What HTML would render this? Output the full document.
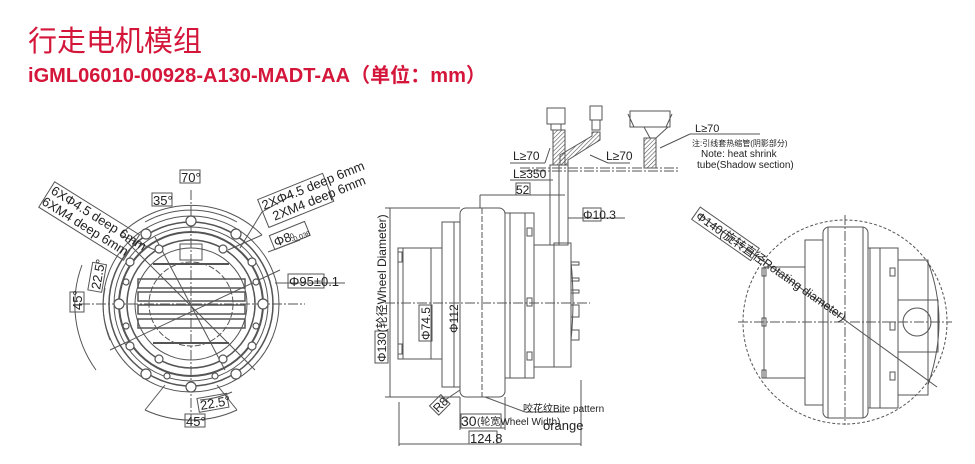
<!DOCTYPE html>
<html><head><meta charset="utf-8"><style>
html,body{margin:0;padding:0;background:#fff;width:975px;height:464px;overflow:hidden}
svg{position:absolute;left:0;top:0}
text{font-family:"Liberation Sans","Noto Sans CJK SC",sans-serif}
</style></head><body>
<svg width="975" height="464" viewBox="0 0 975 464" xmlns="http://www.w3.org/2000/svg">
<defs>
<pattern id="h" width="3" height="3" patternUnits="userSpaceOnUse" patternTransform="rotate(45)"><line x1="0" y1="0" x2="0" y2="3" stroke="#555" stroke-width="1.2"/></pattern>
</defs>
<text x="28" y="51" font-size="29" fill="#d4163a">行走电机模组</text>
<text x="28" y="82" font-size="20" font-weight="bold" fill="#d4163a" textLength="458" lengthAdjust="spacingAndGlyphs">iGML06010-00928-A130-MADT-AA（单位：mm）</text>

<!-- LEFT VIEW -->
<g fill="none" stroke="#555" stroke-width="1">
<circle cx="191" cy="304" r="88"/>
<circle cx="191" cy="304" r="82" stroke-width="1.5"/>
<circle cx="191" cy="304" r="77"/>
<circle cx="191" cy="304" r="72" stroke-width="2"/>
<circle cx="191" cy="304" r="64" stroke-width="1.5"/>
<circle cx="191" cy="304" r="56"/>
<circle cx="191" cy="304" r="42" stroke-dasharray="6 2"/>
<line x1="80" y1="304" x2="305" y2="304" stroke-dasharray="10 2 2 2"/>
<line x1="191" y1="190" x2="191" y2="420" stroke-dasharray="10 2 2 2"/>
<rect x="138" y="279" width="107" height="9" stroke-width="1.5"/>
<rect x="138" y="292" width="107" height="9" stroke-width="1.5"/>
<rect x="138" y="305" width="107" height="9" stroke-width="1.5"/>
<rect x="138" y="319" width="107" height="9" stroke-width="1.5"/>
<line x1="153" y1="264" x2="229" y2="264" stroke-width="2"/>
<line x1="153" y1="343" x2="229" y2="343" stroke-width="2"/>
<rect x="180" y="244" width="22" height="16"/>
<line x1="110" y1="350" x2="280" y2="270"/>
<line x1="125" y1="240" x2="255" y2="370"/>
<line x1="155" y1="237" x2="225" y2="370"/>
<path d="M120 235 A100 100 0 0 1 262 235"/>
<path d="M145 222 A95 95 0 0 1 237 222"/>
<path d="M82 265 A112 112 0 0 0 96 370"/>
<path d="M105 288 A90 90 0 0 0 110 340"/>
<path d="M145 410 A110 110 0 0 0 237 410"/>
<path d="M200 400 A95 95 0 0 0 232 392"/>
<line x1="120" y1="235" x2="155" y2="250"/><line x1="262" y1="235" x2="228" y2="250"/>
<line x1="145" y1="410" x2="165" y2="385"/><line x1="237" y1="410" x2="217" y2="385"/>
<line x1="240" y1="248" x2="262" y2="212"/>
<line x1="262" y1="212" x2="292" y2="195"/>
<line x1="268" y1="252" x2="300" y2="240"/>
<line x1="275" y1="283" x2="345" y2="283"/>
</g>
<g fill="#fff" stroke="#555" stroke-width="1.2">
<circle cx="191" cy="221" r="5"/><circle cx="191" cy="387" r="5"/>
<circle cx="119" cy="304" r="5"/><circle cx="263" cy="304" r="5"/>
<circle cx="146" cy="234" r="5"/><circle cx="236" cy="234" r="5"/>
<circle cx="146" cy="374" r="5"/><circle cx="236" cy="374" r="5"/>
<circle cx="159" cy="249" r="4"/><circle cx="223" cy="249" r="4"/>
<circle cx="159" cy="359" r="4"/><circle cx="223" cy="359" r="4"/>
<circle cx="130" cy="262" r="4"/><circle cx="252" cy="262" r="4"/>
<circle cx="130" cy="346" r="4"/><circle cx="252" cy="346" r="4"/>
<circle cx="126" cy="282" r="3"/><circle cx="256" cy="282" r="3"/>
<circle cx="126" cy="326" r="3"/><circle cx="256" cy="326" r="3"/>
<circle cx="167" cy="376" r="3"/><circle cx="215" cy="376" r="3"/>
</g>
<g font-size="13" fill="#222">
<rect x="180" y="170" width="20" height="13" fill="none" stroke="#555"/><text x="181" y="182">70°</text>
<rect x="152" y="193" width="20" height="13" fill="none" stroke="#555"/><text x="153" y="205">35°</text>
<g transform="translate(82,310) rotate(-90)"><rect x="-2" y="-12" width="20" height="14" fill="none" stroke="#555"/><text x="0" y="0">45°</text></g>
<g transform="translate(100,290) rotate(-80)"><rect x="-2" y="-12" width="28" height="14" fill="none" stroke="#555"/><text x="0" y="0">22.5°</text></g>
<rect x="185" y="414" width="20" height="13" fill="none" stroke="#555"/><text x="186" y="426">45°</text>
<g transform="translate(201,410) rotate(-10)"><rect x="-2" y="-12" width="30" height="14" fill="none" stroke="#555"/><text x="0" y="0">22.5°</text></g>
<g transform="translate(50,193) rotate(32)"><rect x="-2" y="-12" width="100" height="30" fill="none" stroke="#555"/><text x="0" y="0">6XΦ4.5 deep 6mm</text><text x="-2" y="14">6XM4 deep 6mm</text></g>
<g transform="translate(264,210) rotate(-22)"><rect x="-2" y="-12" width="70" height="30" fill="none" stroke="#555"/><text x="0" y="0">2XΦ4.5 deep 6mm</text><text x="6" y="14">2XM4 deep 6mm</text></g>
<g transform="translate(276,247) rotate(-22)"><rect x="-2" y="-13" width="38" height="15" fill="none" stroke="#555"/><text x="0" y="0">Φ8</text><text x="17" y="-2" font-size="7">0</text><text x="17" y="2" font-size="7">-0.036</text></g>
<rect x="288" y="274" width="36" height="14" fill="none" stroke="#555"/><text x="289" y="286">Φ95±0.1</text>
</g>

<!-- MIDDLE VIEW -->
<g fill="none" stroke="#555" stroke-width="1">
<line x1="385" y1="303" x2="590" y2="303" stroke-dasharray="10 2 2 2"/>
<rect x="460" y="208" width="45" height="189" rx="6"/>
<line x1="482" y1="208" x2="482" y2="397" stroke-dasharray="6 2"/>
<rect x="442" y="222" width="18" height="165"/>
<rect x="398" y="248" width="44" height="111"/>
<line x1="403" y1="248" x2="403" y2="359"/>
<rect x="398" y="252" width="4" height="10"/><rect x="398" y="344" width="4" height="10"/>
<rect x="505" y="213" width="29" height="165"/>
<line x1="510" y1="213" x2="510" y2="378"/><line x1="525" y1="213" x2="525" y2="378"/>
<rect x="527" y="228" width="5" height="8"/><rect x="527" y="298" width="5" height="8"/><rect x="527" y="352" width="5" height="8"/>
<rect x="534" y="245" width="20" height="122"/>
<rect x="554" y="243" width="17" height="124"/>
<path d="M571 262 Q575 300 571 340"/>
<rect x="571" y="262" width="8" height="3"/><rect x="571" y="278" width="8" height="3"/><rect x="571" y="290" width="8" height="3"/>
<rect x="571" y="305" width="8" height="12"/><rect x="571" y="330" width="8" height="10"/>
<rect x="550" y="165" width="18" height="80"/>
<line x1="559" y1="165" x2="559" y2="245"/>
<line x1="520" y1="168" x2="680" y2="168" stroke-dasharray="10 2 2 2"/>
<line x1="520" y1="171" x2="680" y2="171" stroke-dasharray="10 2 2 2"/>
<line x1="390" y1="208" x2="390" y2="397"/>
<line x1="385" y1="208" x2="460" y2="208"/><line x1="385" y1="397" x2="460" y2="397"/>
<line x1="431" y1="248" x2="431" y2="359"/>
<line x1="454" y1="222" x2="454" y2="387"/>
<line x1="480" y1="195" x2="565" y2="195"/>
<line x1="480" y1="195" x2="480" y2="208"/>
<line x1="568" y1="218" x2="625" y2="218"/>
<line x1="399" y1="402" x2="399" y2="446"/><line x1="581" y1="380" x2="581" y2="446"/>
<line x1="399" y1="444" x2="581" y2="444"/>
<line x1="460" y1="397" x2="460" y2="430"/><line x1="505" y1="397" x2="505" y2="430"/>
<line x1="460" y1="428" x2="505" y2="428"/>
<line x1="485" y1="397" x2="525" y2="412"/><line x1="525" y1="412" x2="565" y2="412"/>
<line x1="445" y1="400" x2="460" y2="390"/>
<line x1="510" y1="163" x2="545" y2="163"/><line x1="545" y1="163" x2="550" y2="148"/>
<line x1="608" y1="163" x2="630" y2="163"/><line x1="608" y1="163" x2="590" y2="155"/>
<line x1="510" y1="180" x2="553" y2="180"/>
<line x1="690" y1="134" x2="760" y2="134"/><line x1="690" y1="134" x2="660" y2="148"/>
</g>
<g stroke="#555" fill="none">
<path d="M553 130 L565 130 L565 165 L553 165 Z" fill="url(#h)"/>
<path d="M592 132 L600 132 L600 140 L568 160 L568 165 L560 165 L560 155 L592 136 Z" fill="url(#h)"/>
<rect x="644" y="138" width="12" height="30" fill="url(#h)"/>
<rect x="547" y="108" width="18" height="16"/><rect x="551" y="124" width="10" height="6"/>
<rect x="590" y="106" width="12" height="14"/><rect x="592" y="120" width="8" height="10"/>
<rect x="630" y="111" width="40" height="16"/>
<path d="M628 114 L634 127 M672 114 L666 127 M644 127 L650 138 M668 127 L656 138"/>
</g>
<g font-size="12" fill="#222">
<text x="513" y="160">L≥70</text><text x="606" y="160">L≥70</text>
<text x="513" y="178">L≥350</text>
<rect x="516" y="183" width="14" height="12" fill="none" stroke="#555"/><text x="516" y="194">52</text>
<rect x="583" y="208" width="18" height="13" fill="none" stroke="#555"/><text x="583" y="219">Φ10.3</text>
<g transform="translate(386,362) rotate(-90)"><rect x="-1" y="-11" width="32" height="13" fill="none" stroke="#555"/><text x="0" y="0">Φ130(轮径Wheel Diameter)</text></g>
<g transform="translate(430,340) rotate(-90)"><rect x="-1" y="-11" width="36" height="13" fill="none" stroke="#555"/><text x="0" y="0">Φ74.5</text></g>
<g transform="translate(458,333) rotate(-90)"><text x="0" y="0">Φ112</text></g>
<g transform="translate(438,413) rotate(-45)"><rect x="-1" y="-11" width="16" height="13" fill="none" stroke="#555"/><text x="0" y="0">R8</text></g>
<rect x="461" y="414" width="40" height="14" fill="none" stroke="#555"/><text x="461" y="426" font-size="14">30</text><text x="477" y="425" font-size="10">(轮宽Wheel Width)</text>
<text x="543" y="430" font-size="13">orange</text>
<text x="523" y="412" font-size="10">咬花纹Bite pattern</text>
<rect x="469" y="431" width="28" height="13" fill="none" stroke="#555"/><text x="470" y="443" font-size="13">124.8</text>
<text x="695" y="132" font-size="11">L≥70</text>
<text x="692" y="146" font-size="8">注:引线套热缩管(阴影部分)</text>
<text x="701" y="157" font-size="10">Note: heat shrink</text>
<text x="697" y="168" font-size="10">tube(Shadow section)</text>
</g>

<!-- RIGHT VIEW -->
<g fill="none" stroke="#555" stroke-width="1">
<circle cx="845" cy="322" r="102" stroke-dasharray="3 2"/>
<line x1="738" y1="322" x2="952" y2="322" stroke-dasharray="10 2 2 2"/>
<line x1="845" y1="215" x2="845" y2="425" stroke-dasharray="10 2 2 2"/>
<rect x="823" y="227" width="45" height="191" rx="6"/>
<line x1="828" y1="227" x2="828" y2="418"/><line x1="863" y1="227" x2="863" y2="418"/>
<rect x="805" y="240" width="18" height="165"/>
<rect x="764" y="267" width="41" height="111"/>
<rect x="762" y="268" width="4" height="8"/><rect x="762" y="318" width="4" height="8"/><rect x="762" y="370" width="4" height="8"/>
<rect x="868" y="248" width="12" height="160"/>
<rect x="870" y="248" width="28" height="160"/>
<rect x="890" y="268" width="5" height="8"/><rect x="890" y="322" width="5" height="8"/><rect x="890" y="372" width="5" height="8"/>
<rect x="898" y="260" width="30" height="135"/>
<rect x="898" y="300" width="40" height="52"/>
<circle cx="917" cy="322" r="14"/>
<path d="M928 262 Q950 320 928 385"/>
<line x1="700" y1="215" x2="937" y2="387"/>
</g>
<g transform="translate(695,218) rotate(35)" font-size="12" fill="#222">
<rect x="-2" y="-12" width="72" height="15" fill="none" stroke="#555"/>
<text x="0" y="0">Φ140(旋转直径Rotating diameter)</text>
</g>
</svg>
</body></html>
